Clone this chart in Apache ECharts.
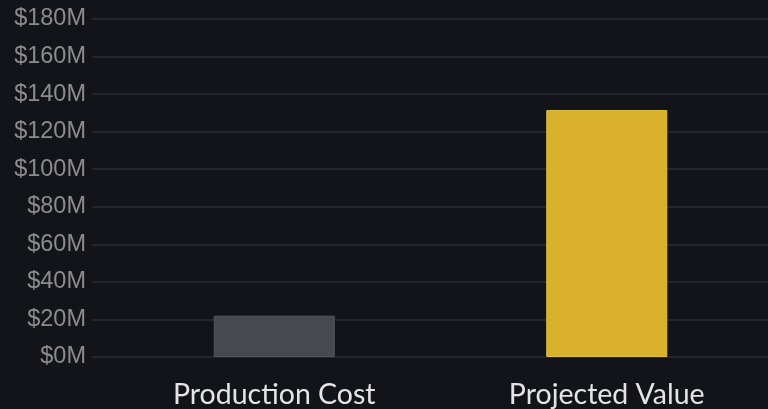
<!DOCTYPE html>
<html><head><meta charset="utf-8">
<script src="https://cdn.jsdelivr.net/npm/echarts@6/dist/echarts.min.js"></script>
<style>html,body{margin:0;padding:0;background:#131419;overflow:hidden;width:768px;height:409px;}#c{width:773px;height:409px;}</style>
</head><body><div id="c"></div>
<script>
const categories = ["Production Cost", "Projected Value"];
const values = [22, 131.5];
const barColors = ["#48494e", "#d9b12d"];
const borderColors = ["#56575c", "#e2c23a"];
const yMin = 0, yMax = 180, yStep = 20;

const chart = echarts.init(document.getElementById('c'), null, {renderer: 'canvas'});
chart.setOption({
  backgroundColor: '#131419',
  animation: false,
  grid: [
    {left: 92, right: 0, top: 19, bottom: 52},
    {left: 108, right: 0, top: 19, bottom: 52}
  ],
  xAxis: [
    {gridIndex: 0, type: 'value', show: false, min: 0, max: 1},
    {gridIndex: 1, type: 'category', data: categories,
     axisLine: {show: false}, axisTick: {show: false},
     axisLabel: {color: '#e4e4e4', fontFamily: 'Lato', fontSize: 28.5, margin: 23}}
  ],
  yAxis: [
    {gridIndex: 0, type: 'value', min: yMin, max: yMax, interval: yStep,
     axisLine: {show: false}, axisTick: {show: false},
     splitLine: {lineStyle: {color: '#2b2c31', width: 1.5}},
     axisLabel: {color: '#8c8c8c', fontFamily: 'Liberation Sans', fontSize: 23.5, margin: 6,
       formatter: v => '$' + v + 'M'}},
    {gridIndex: 1, type: 'value', min: yMin, max: yMax, interval: yStep, show: false,
     splitLine: {show: false}}
  ],
  series: [{
    type: 'bar', xAxisIndex: 1, yAxisIndex: 1, barWidth: 121,
    data: values.map((v, i) => ({value: v, itemStyle: {color: barColors[i], borderColor: borderColors[i], borderWidth: 1}}))
  }]
});
</script></body></html>
